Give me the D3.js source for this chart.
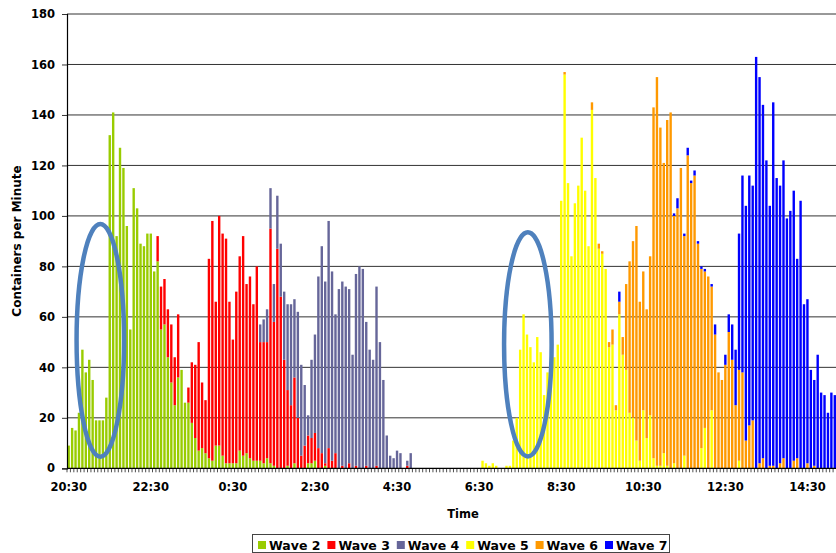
<!DOCTYPE html>
<html>
<head>
<meta charset="utf-8">
<script src="https://cdn.jsdelivr.net/npm/d3@7"></script>
<style>
  body { margin: 0; background: #fff; }
  svg { display: block; font-family: "DejaVu Sans", sans-serif; font-weight: bold; }
</style>
</head>
<body>
<div id="chart"></div>
<script>
// 5-minute bins starting 20:30, one bar per bin
const startMinutes = 20 * 60 + 30,
      binMinutes = 5,
      binCount = 225;

const tickLabels = ["20:30", "22:30", "0:30", "2:30", "4:30", "6:30", "8:30", "10:30", "12:30", "14:30"];
const yTicks = [0, 20, 40, 60, 80, 100, 120, 140, 160, 180];

const waveNames = ["Wave 2", "Wave 3", "Wave 4", "Wave 5", "Wave 6", "Wave 7"];
const waveColors = ["#99cc00", "#ff0000", "#666699", "#ffff00", "#ff9900", "#0000ff"];

// each wave: index of the first bin it appears in, then its values bin by bin
const wave2Start = 0;
const wave2 = [9, 16, 15, 22, 47, 38, 43, 35, 19, 19,
    19, 28, 132, 141, 92, 127, 119, 96, 55, 111,
    103, 89, 88, 93, 93, 78, 82, 55, 57, 44,
    34, 25, 36, 39, 26, 26, 18, 12, 7, 8,
    6, 4, 3, 9, 9, 5, 2, 2, 2, 2,
    7, 5, 6, 4, 3, 3, 3, 2, 4, 2,
    1, 0, 0, 0, 1, 0, 2, 0, 0, 0,
    2, 2, 3, 0, 0, 1];

const wave3Start = 26;
const wave3 = [10, 17, 18, 19, 23, 19, 25, 0, 0, 6,
    24, 29, 43, 26, 21, 79, 95, 57, 91, 88,
    89, 64, 49, 68, 77, 87, 67, 72, 62, 77,
    47, 48, 46, 93, 57, 87, 68, 43, 30, 25,
    34, 20, 5, 9, 11, 10, 11, 8, 6, 1,
    8, 3, 6, 0, 1, 0, 2, 0, 1, 0,
    0, 1, 0, 0, 1, 0, 0, 0, 0, 0,
    0, 0, 0, 1];

const wave4Start = 56;
const wave4 = [7, 9, 13, 16, 15, 21, 21, 27, 34, 40,
    31, 42, 36, 24, 8, 31, 39, 68, 82, 72,
    90, 75, 55, 71, 73, 72, 69, 45, 76, 80,
    79, 57, 47, 43, 71, 50, 35, 13, 5, 4,
    7, 6, 0, 2, 6];

const wave5Start = 121;
const wave5 = [3, 2, 1, 2, 1, 0, 0, 1, 1, 11,
    20, 47, 61, 53, 48, 42, 52, 46, 29, 38,
    40, 44, 49, 106, 156, 113, 84, 105, 112, 131,
    110, 88, 142, 115, 87, 85, 79, 48, 49, 23,
    61, 45, 39, 22, 20, 11, 3, 23, 12, 21,
    4, 1, 1, 6, 1, 0, 2, 0, 0, 5,
    0, 0, 0, 0, 8, 16, 0, 23, 0, 0,
    0, 0, 0, 0, 0, 3];

const wave6Start = 145;
const wave6 = [1, 0, 0, 0, 0, 0, 0, 0, 3, 0,
    2, 1, 0, 2, 6, 2, 5, 7, 34, 60,
    70, 85, 63, 55, 51, 63, 139, 154, 134, 115,
    137, 141, 98, 103, 119, 87, 124, 113, 116, 89,
    71, 62, 76, 49, 53, 38, 35, 41, 54, 43,
    25, 36, 38, 11, 17, 19, 0, 2, 4, 0,
    1, 1, 0, 2, 4, 0, 0, 3, 4, 0,
    0, 2, 0, 1];

const wave7Start = 161;
const wave7 = [4, 0, 0, 0, 0, 0, 0, 0, 0, 0,
    0, 0, 0, 0, 0, 0, 1, 4, 0, 1,
    3, 1, 2, 1, 1, 1, 0, 1, 4, 0,
    0, 4, 7, 14, 22, 54, 78, 93, 99, 93,
    163, 153, 140, 122, 103, 144, 115, 110, 118, 99,
    102, 107, 79, 106, 65, 65, 39, 34, 45, 30,
    29, 22, 30, 29];

// the two hand-drawn rings, in bin index / value units
const rings = [
    {from: 2.3, to: 16.2, low: 4.6, high: 96.8},
    {from: 127.3, to: 141.2, low: 4.7, high: 93.5}
];

const waves = [
    [wave2Start, wave2], [wave3Start, wave3], [wave4Start, wave4],
    [wave5Start, wave5], [wave6Start, wave6], [wave7Start, wave7]
];

// category labels like "20:30", "0:05"
const times = d3.range(binCount).map(i => {
    let t = (startMinutes + i * binMinutes) % 1440;
    return Math.floor(t / 60) + ":" + String(t % 60).padStart(2, "0");
});

// table for d3.stack
const data = times.map((time, i) => {
    let row = {time: time};
    waves.forEach(([start, vals], k) => {
        let v = vals[i - start];
        row[waveNames[k]] = v === undefined ? 0 : v;
    });
    return row;
});

const width = 836,
      height = 553,
      margin = ({top: 14, left: 67, bottom: 468.3});

const svg = d3.select("#chart")
    .append("svg")
    .attr("width", width)
    .attr("height", height)
    .attr("viewBox", [0, 0, width, height]);

svg.append("rect").attr("width", width).attr("height", height).attr("fill", "#fff");

const x = d3.scaleBand()
    .domain(times)
    .range([margin.left, margin.left + binCount * 3.42])
    .paddingInner(0.3)
    .paddingOuter(0.15);

const y = d3.scaleLinear()
    .domain([0, 180])
    .range([margin.bottom, margin.top]);

// gridlines
svg.append("g")
    .selectAll("line")
    .data(yTicks.slice(1))
    .join("line")
    .attr("x1", margin.left)
    .attr("x2", width)
    .attr("y1", d => y(d))
    .attr("y2", d => y(d))
    .attr("stroke", "#333")
    .attr("stroke-width", 1);

// stacked bars
const stacked = d3.stack().keys(waveNames)(data);

svg.append("g")
    .selectAll("g")
    .data(stacked)
    .join("g")
    .attr("fill", (d, i) => waveColors[i])
    .selectAll("rect")
    .data(d => d.filter(s => s[1] > s[0]))
    .join("rect")
    .attr("x", d => x(d.data.time))
    .attr("width", x.bandwidth())
    .attr("y", d => y(d[1]))
    .attr("height", d => y(d[0]) - y(d[1]));

// rings
const binX = i => x(times[0]) + x.bandwidth() / 2 + i * x.step();

svg.append("g")
    .selectAll("ellipse")
    .data(rings)
    .join("ellipse")
    .attr("cx", d => (binX(d.from) + binX(d.to)) / 2)
    .attr("cy", d => (y(d.low) + y(d.high)) / 2)
    .attr("rx", d => (binX(d.to) - binX(d.from)) / 2)
    .attr("ry", d => (y(d.low) - y(d.high)) / 2)
    .attr("fill", "none")
    .attr("stroke", "#4f81bd")
    .attr("stroke-width", 4.5);

// x axis: comb of ticks at bin boundaries, labels every 2 hours
const edge = x.step() * x.paddingInner() / 2;

svg.append("g")
    .selectAll("line")
    .data(times)
    .join("line")
    .attr("x1", d => x(d) - edge)
    .attr("x2", d => x(d) - edge)
    .attr("y1", margin.bottom)
    .attr("y2", margin.bottom + 4)
    .attr("stroke", "#222")
    .attr("stroke-width", 0.8);

svg.append("line")
    .attr("x1", margin.left)
    .attr("x2", width)
    .attr("y1", margin.bottom)
    .attr("y2", margin.bottom)
    .attr("stroke", "#000")
    .attr("stroke-width", 1.2);

const xAxis = g => g
    .attr("transform", `translate(0, ${margin.bottom})`)
    .call(d3.axisBottom(x).tickValues(tickLabels).tickSize(0).tickPadding(15))
    .call(g => g.select(".domain").remove())
    .call(g => g.selectAll("text")
        .attr("fill", "#000")
        .style("font-size", "11.5px")
        .style("font-family", "DejaVu Sans")
        .style("font-weight", "bold"));

svg.append("g").call(xAxis);

// y axis
const yAxis = g => g
    .attr("transform", `translate(${margin.left}, 0)`)
    .call(d3.axisLeft(y).tickValues(yTicks).tickSize(5).tickPadding(7))
    .call(g => g.selectAll("line").attr("stroke", "#333"))
    .call(g => g.select(".domain").attr("stroke", "#000").attr("stroke-width", 1.2))
    .call(g => g.selectAll("text")
        .attr("fill", "#000")
        .style("font-size", "11.5px")
        .style("font-family", "DejaVu Sans")
        .style("font-weight", "bold"));

svg.append("g").call(yAxis);

// axis titles
svg.append("text")
    .attr("x", 463)
    .attr("y", 518)
    .attr("text-anchor", "middle")
    .style("font-size", "11.5px")
    .text("Time");

svg.append("text")
    .attr("transform", "translate(21, 241) rotate(-90)")
    .attr("text-anchor", "middle")
    .style("font-size", "12px")
    .text("Containers per Minute");

// legend
const legend = svg.append("g");

legend.append("rect")
    .attr("x", 252.5)
    .attr("y", 534.5)
    .attr("width", 417)
    .attr("height", 18)
    .attr("fill", "#fff")
    .attr("stroke", "#444");

const item = legend.selectAll("g")
    .data(waveNames)
    .join("g")
    .attr("transform", (d, i) => `translate(${258 + i * 69.4}, 0)`);

item.append("rect")
    .attr("y", 541)
    .attr("width", 8)
    .attr("height", 8)
    .attr("fill", (d, i) => waveColors[i]);

item.append("text")
    .attr("x", 11)
    .attr("y", 549.5)
    .style("font-size", "12.5px")
    .text(d => d);
</script>
</body>
</html>
